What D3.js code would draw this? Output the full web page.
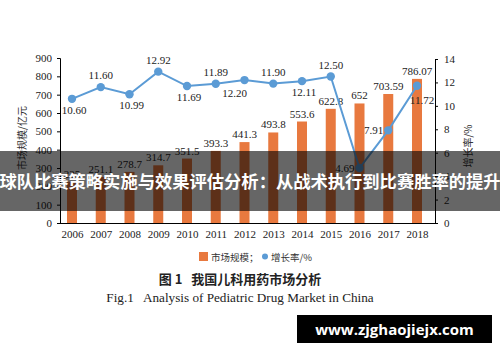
<!DOCTYPE html>
<html><head><meta charset="utf-8">
<script src="https://cdn.jsdelivr.net/npm/d3@7/dist/d3.min.js"></script>
<style>
body{margin:0;background:#fff;}
svg{display:block;}
</style></head>
<body>
<svg id="c" width="500" height="362"></svg>
<script>
const years = ["2006","2007","2008","2009","2010","2011","2012","2013","2014","2015","2016","2017","2018"];
const marketSize = [225, 251.1, 278.7, 314.7, 351.5, 393.3, 441.3, 493.8, 553.6, 622.8, 652, 703.59, 786.07];
const marketLabels = ["225","251.1","278.7","314.7","351.5","393.3","441.3","493.8","553.6","622.8","652","703.59","786.07"];
const growthRate = [10.60, 11.60, 10.99, 12.92, 11.69, 11.89, 12.20, 11.90, 12.11, 12.50, 4.69, 7.91, 11.72];
const growthLabels = ["10.60","11.60","10.99","12.92","11.69","11.89","12.20","11.90","12.11","12.50","4.69","7.91","11.72"];
const growthLabelPlace = ["below","above","below","above","below","above","belowLeft","above","below","above","left","left","belowRight"];
const leftTicks = [0,100,200,300,400,500,600,700,800,900];
const rightTicks = [0,2,4,6,8,10,12,14];

const svg = d3.select("#c");
const serif = "'Liberation Serif','Times New Roman',serif";
const cjk = "'Noto Sans CJK SC','Noto Sans',sans-serif";
const orange = "#e8793f", blue = "#5b9bd5";

const x = d3.scalePoint().domain(years).range([72, 417]);
const yL = d3.scaleLinear().domain([0, 900]).range([223, 58]);
const yR = d3.scaleLinear().domain([0, 14]).range([223, 59]);
const barW = 10;

// bars
svg.append("g").selectAll("rect").data(marketSize).join("rect")
  .attr("x", (d,i) => x(years[i]) - barW/2)
  .attr("y", d => yL(d))
  .attr("width", barW)
  .attr("height", d => yL(0) - yL(d))
  .attr("fill", orange);

svg.append("g").selectAll("text").data(marketSize).join("text")
  .attr("x", (d,i) => x(years[i]))
  .attr("y", d => yL(d) - 4)
  .attr("text-anchor", "middle")
  .attr("font-family", serif).attr("font-size", 11).attr("fill", "#222")
  .text((d,i) => marketLabels[i]);

// axes
const gL = svg.append("g").attr("transform", "translate(60,0)")
  .call(d3.axisLeft(yL).tickValues(leftTicks).tickSize(3).tickPadding(5).tickFormat(d3.format("d")));
const gR = svg.append("g").attr("transform", "translate(435,0)")
  .call(d3.axisRight(yR).tickValues(rightTicks).tickSize(3).tickPadding(6).tickFormat(d3.format("d")));
const gB = svg.append("g").attr("transform", "translate(0,223)")
  .call(d3.axisBottom(x).tickSize(0).tickPadding(7));
gB.select(".domain").remove();
svg.append("line").attr("x1", 60).attr("x2", 435).attr("y1", 223.5).attr("y2", 223.5)
  .attr("stroke", "#000").attr("stroke-width", 1);
[gL, gR, gB].forEach(g => {
  g.selectAll("text").attr("font-family", serif).attr("font-size", 11).attr("fill", "#222");
  g.selectAll(".domain, line").attr("stroke", "#000");
});

// axis titles
svg.append("text").attr("transform", "translate(26,138) rotate(-90)")
  .attr("text-anchor", "middle").attr("font-family", cjk).attr("font-size", 10).attr("fill", "#333")
  .text("市场规模/亿元");
svg.append("text").attr("transform", "translate(472,146) rotate(-90)")
  .attr("text-anchor", "middle").attr("font-family", cjk).attr("font-size", 10).attr("fill", "#333")
  .text("增长率/%");

// line
const line = d3.line().x((d,i) => x(years[i])).y(d => yR(d));
svg.append("path").datum(growthRate).attr("d", line)
  .attr("fill", "none").attr("stroke", blue).attr("stroke-width", 2);
svg.append("g").selectAll("circle").data(growthRate).join("circle")
  .attr("cx", (d,i) => x(years[i])).attr("cy", d => yR(d)).attr("r", 4.2).attr("fill", blue);

const off = {
  above: [0, -8, "middle"], below: [2, 15, "middle"], belowLeft: [-10, 17, "middle"],
  belowRight: [5, 18, "middle"], left: [-5, 4, "end"]
};
svg.append("g").selectAll("text").data(growthRate).join("text")
  .attr("x", (d,i) => x(years[i]) + off[growthLabelPlace[i]][0])
  .attr("y", d => yR(d))
  .attr("dy", (d,i) => off[growthLabelPlace[i]][1])
  .attr("text-anchor", (d,i) => off[growthLabelPlace[i]][2])
  .attr("font-family", serif).attr("font-size", 11).attr("fill", "#222")
  .text((d,i) => growthLabels[i]);

// legend
const lg = svg.append("g").attr("transform", "translate(199,252)");
lg.append("rect").attr("width", 9).attr("height", 9).attr("fill", orange);
lg.append("text").attr("x", 12).attr("y", 8.5).attr("font-family", cjk).attr("font-size", 9.5).attr("fill", "#333").text("市场规模；");
lg.append("circle").attr("cx", 66).attr("cy", 4.5).attr("r", 3).attr("fill", blue);
lg.append("text").attr("x", 72).attr("y", 8.5).attr("font-family", cjk).attr("font-size", 9.5).attr("fill", "#333").text("增长率/%");

// captions
svg.append("text").attr("x", 240).attr("y", 284).attr("text-anchor", "middle")
  .attr("font-family", "'Noto Sans CJK SC',serif").attr("font-weight", "bold").attr("font-size", 13).attr("fill", "#222")
  .attr("xml:space", "preserve").text("图 1   我国儿科用药市场分析");
svg.append("text").attr("x", 240).attr("y", 302).attr("text-anchor", "middle")
  .attr("font-family", serif).attr("font-size", 13.2).attr("fill", "#222")
  .attr("xml:space", "preserve").text("Fig.1   Analysis of Pediatric Drug Market in China");

// banner overlay
svg.append("rect").attr("x", 0).attr("y", 151).attr("width", 500).attr("height", 60).attr("fill", "rgba(0,0,0,0.6)");
svg.append("text").attr("x", 250).attr("y", 188).attr("text-anchor", "middle")
  .attr("font-family", cjk).attr("font-weight", "bold").attr("font-size", 17.3).attr("fill", "#fff")
  .text("球队比赛策略实施与效果评估分析：从战术执行到比赛胜率的提升");

// watermark
svg.append("rect").attr("x", 297).attr("y", 315).attr("width", 195).attr("height", 28).attr("fill", "#000");
svg.append("text").attr("x", 394.5).attr("y", 335).attr("text-anchor", "middle")
  .attr("font-family", "'Open Sans','DejaVu Sans',sans-serif").attr("font-weight", "bold").attr("font-size", 15).attr("fill", "#fff")
  .text("www.zjghaojiejx.com");
</script>
</body></html>
